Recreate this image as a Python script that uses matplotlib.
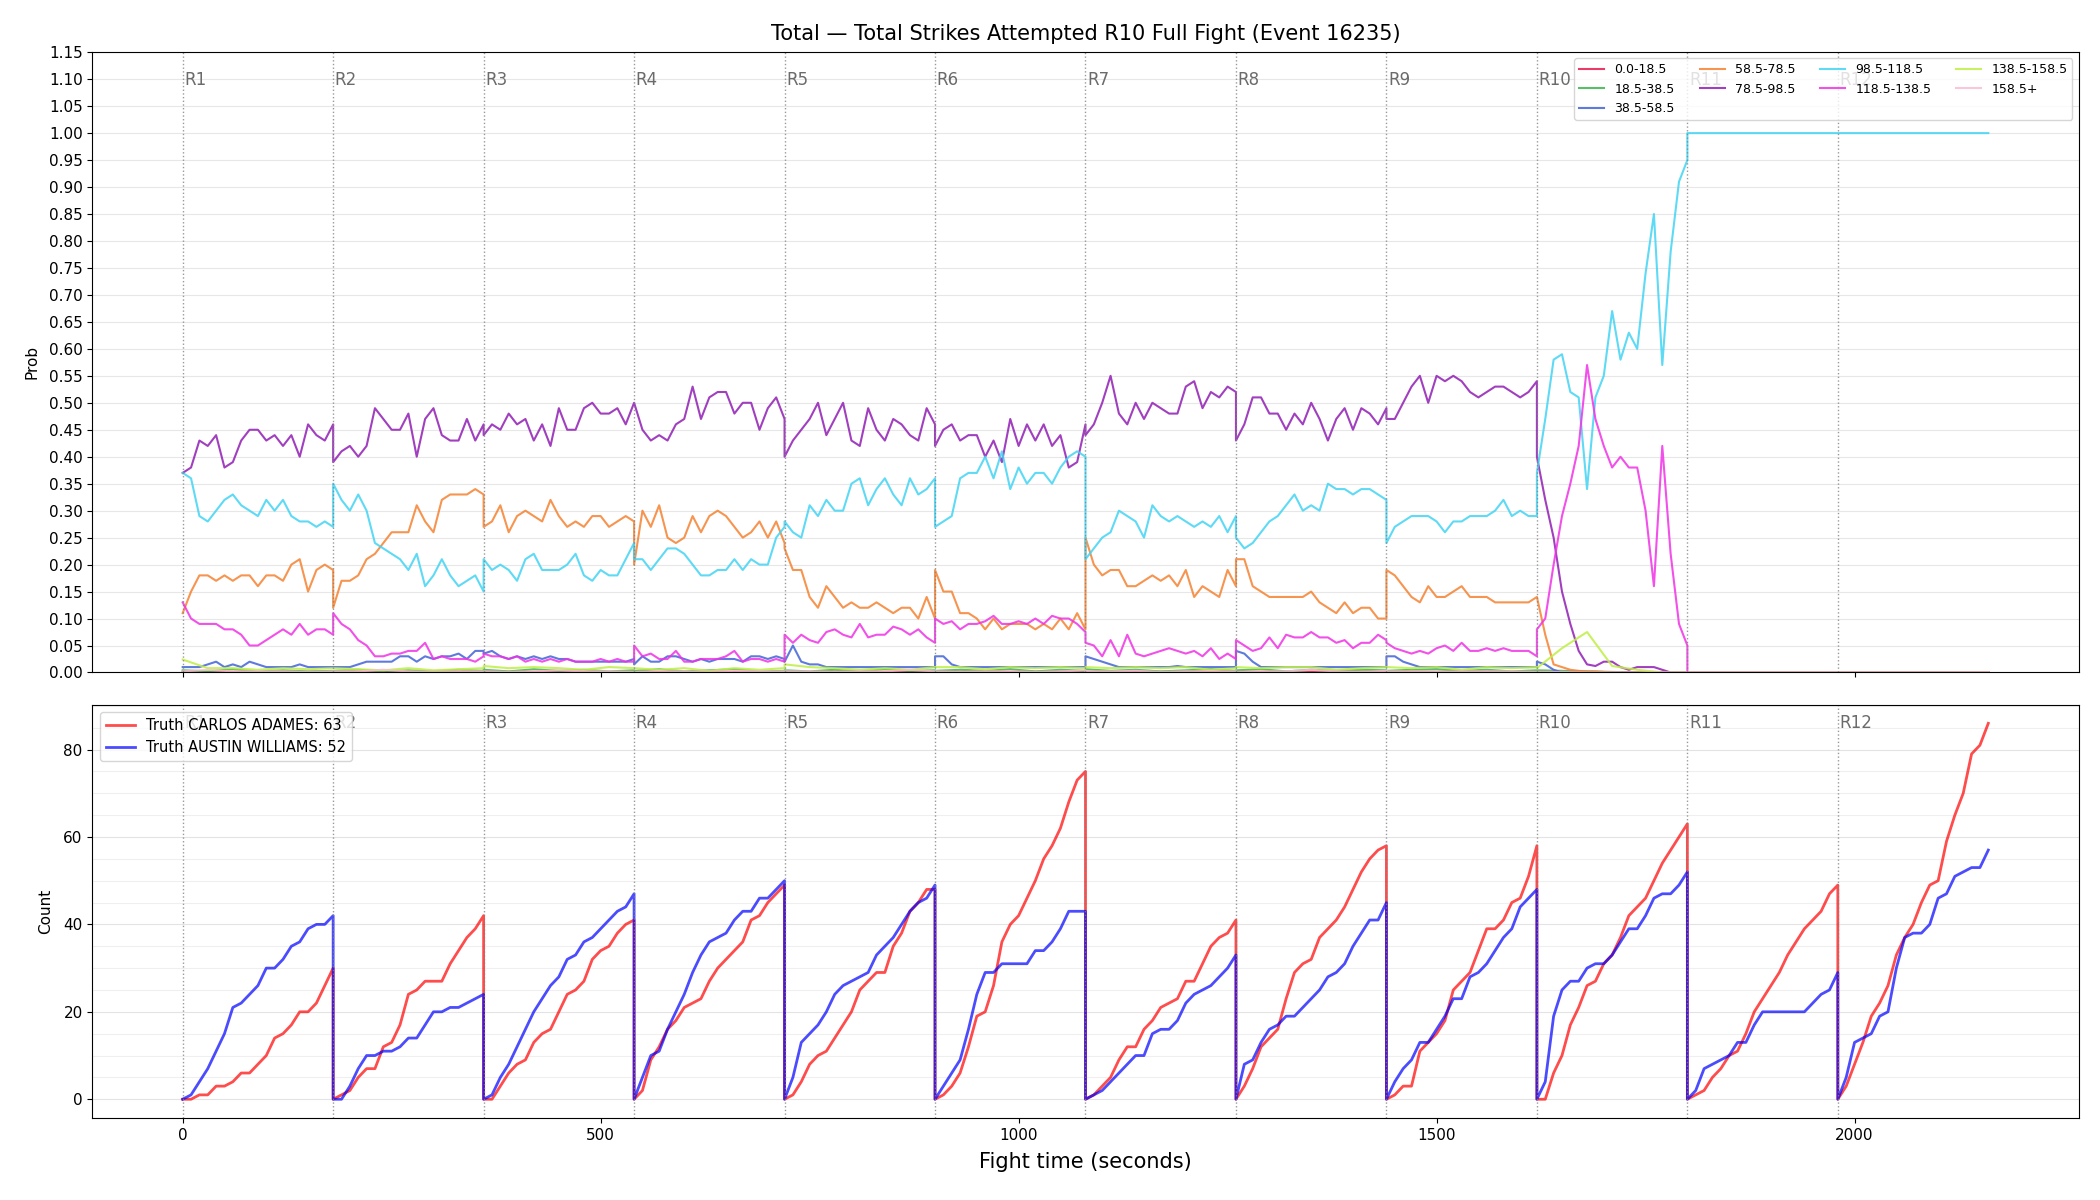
import numpy as np
import matplotlib.pyplot as plt
from matplotlib.ticker import MultipleLocator

# fight structure (seconds)
round_starts = [0, 180, 360, 540, 720, 900, 1080, 1260, 1440, 1620, 1800, 1980]
round_len = 180

bin_labels = ['0.0-18.5', '18.5-38.5', '38.5-58.5', '58.5-78.5', '78.5-98.5',
              '98.5-118.5', '118.5-138.5', '138.5-158.5', '158.5+']
bin_colors = ['#e6194B', '#3cb44b', '#4363d8', '#f58231', '#911eb4',
              '#42d4f4', '#f032e6', '#bfef45', '#fabed4']

# bin probabilities in percent, one list per round R1..R10, every 10 s
p_38_58 = [
    [1, 1, 1, 1.5, 2, 1, 1.5, 1, 2, 1.5, 1, 1, 1, 1, 1.5, 1, 1, 1, 1],
    [1, 1, 1, 1.5, 2, 2, 2, 2, 3, 3, 2, 3, 2.5, 3, 3, 3.5, 2.5, 4, 4],
    [3.5, 4, 3, 2.5, 3, 2.5, 3, 2.5, 3, 2.5, 2.5, 2, 2, 2, 2, 2, 2, 2, 2.5],
    [1.5, 3, 2, 2, 3, 3, 2.5, 2, 2.5, 2, 2.5, 2.5, 2.5, 2, 3, 3, 2.5, 3, 2.5],
    [2, 5, 2, 1.5, 1.5, 1, 1, 1, 1, 1, 1, 1, 1, 1, 1, 1, 1, 1, 1],
    [3, 3, 1.5, 1, 1, 1, 1, 1, 1, 1, 1, 1, 1, 1, 1, 1, 1, 1, 1],
    [3, 2.5, 2, 1.5, 1, 1, 1, 1, 1, 1, 1, 1.2, 1, 1, 1, 1, 1, 1, 1],
    [4, 3.5, 2, 1, 1, 1, 1, 1, 1, 1, 1, 1, 1, 1, 1, 1, 1, 1, 1],
    [3, 3, 2, 1.5, 1, 1, 1, 1, 1, 1, 1, 1, 1, 1, 1, 1, 1, 1, 1],
    [2, 1.5, 0.5, 0, 0, 0, 0, 0, 0, 0, 0, 0, 0, 0, 0, 0, 0, 0, 0],
]
p_58_78 = [
    [11, 15, 18, 18, 17, 18, 17, 18, 18, 16, 18, 18, 17, 20, 21, 15, 19, 20, 19],
    [12, 17, 17, 18, 21, 22, 24, 26, 26, 26, 31, 28, 26, 32, 33, 33, 33, 34, 33],
    [27, 28, 31, 26, 29, 30, 29, 28, 32, 29, 27, 28, 27, 29, 29, 27, 28, 29, 28],
    [20, 30, 27, 31, 25, 24, 25, 29, 26, 29, 30, 29, 27, 25, 26, 28, 25, 28, 24],
    [23, 19, 19, 14, 12, 16, 14, 12, 13, 12, 12, 13, 12, 11, 12, 12, 10, 14, 10],
    [19, 15, 15, 11, 11, 10, 8, 10, 8, 9, 9, 9, 8, 9, 8, 10, 8, 11, 8],
    [25, 20, 18, 19, 19, 16, 16, 17, 18, 17, 18, 16, 19, 14, 16, 15, 14, 19, 16],
    [21, 21, 16, 15, 14, 14, 14, 14, 14, 15, 13, 12, 11, 13, 11, 12, 12, 10, 10],
    [19, 18, 16, 14, 13, 16, 14, 14, 15, 16, 14, 14, 14, 13, 13, 13, 13, 13, 14],
    [14, 7, 1.5, 1, 0.5, 0.3, 0.2, 0.2, 0.1, 0, 0, 0, 0, 0, 0, 0, 0, 0, 0],
]
p_78_98 = [
    [37, 38, 43, 42, 44, 38, 39, 43, 45, 45, 43, 44, 42, 44, 40, 46, 44, 43, 46],
    [39, 41, 42, 40, 42, 49, 47, 45, 45, 48, 40, 47, 49, 44, 43, 43, 47, 43, 46],
    [44, 46, 45, 48, 46, 47, 43, 46, 42, 49, 45, 45, 49, 50, 48, 48, 49, 46, 50],
    [50, 45, 43, 44, 43, 46, 47, 53, 47, 51, 52, 52, 48, 50, 50, 45, 49, 51, 47],
    [40, 43, 45, 47, 50, 44, 47, 50, 43, 42, 49, 45, 43, 47, 46, 44, 43, 49, 46],
    [42, 45, 46, 43, 44, 44, 40, 43, 39, 47, 42, 46, 43, 46, 42, 44, 38, 39, 46],
    [44, 46, 50, 55, 48, 46, 50, 47, 50, 49, 48, 48, 53, 54, 49, 52, 51, 53, 52],
    [43, 46, 51, 51, 48, 48, 45, 48, 46, 50, 47, 43, 47, 49, 45, 49, 48, 46, 49],
    [47, 47, 50, 53, 55, 50, 55, 54, 55, 54, 52, 51, 52, 53, 53, 52, 51, 52, 54],
    [40, 32, 25, 15, 9, 4, 1.5, 1.2, 2, 2, 1, 0.5, 1, 1, 1, 0.5, 0, 0, 0],
]
p_98_118 = [
    [37, 36, 29, 28, 30, 32, 33, 31, 30, 29, 32, 30, 32, 29, 28, 28, 27, 28, 27],
    [35, 32, 30, 33, 30, 24, 23, 22, 21, 19, 22, 16, 18, 21, 18, 16, 17, 18, 15],
    [21, 19, 20, 19, 17, 21, 22, 19, 19, 19, 20, 22, 18, 17, 19, 18, 18, 21, 24],
    [21, 21, 19, 21, 23, 23, 22, 20, 18, 18, 19, 19, 21, 19, 21, 20, 20, 25, 27],
    [28, 26, 25, 31, 29, 32, 30, 30, 35, 36, 31, 34, 36, 33, 31, 36, 33, 34, 36],
    [27, 28, 29, 36, 37, 37, 40, 36, 41, 34, 38, 35, 37, 37, 35, 38, 40, 41, 40],
    [21, 23, 25, 26, 30, 29, 28, 25, 31, 29, 28, 29, 28, 27, 28, 27, 29, 26, 29],
    [25, 23, 24, 26, 28, 29, 31, 33, 30, 31, 30, 35, 34, 34, 33, 34, 34, 33, 32],
    [24, 27, 28, 29, 29, 29, 28, 26, 28, 28, 29, 29, 29, 30, 32, 29, 30, 29, 29],
    [37, 47, 58, 59, 52, 51, 34, 51, 55, 67, 58, 63, 60, 74, 85, 57, 78, 91, 95],
]
p_118_138 = [
    [13, 10, 9, 9, 9, 8, 8, 7, 5, 5, 6, 7, 8, 7, 9, 7, 8, 8, 7],
    [11, 9, 8, 6, 5, 3, 3, 3.5, 3.5, 4, 4, 5.5, 2.5, 3, 2.5, 2.5, 2.5, 2, 3],
    [3.5, 3, 3, 2.5, 3, 2, 2.5, 2, 2.5, 2, 2.5, 2, 2, 2, 2.5, 2, 2.5, 2, 2],
    [5, 3, 3.5, 2.5, 2.5, 4, 2, 2, 2.5, 2.5, 2.5, 3, 4, 2, 2.5, 2.5, 2, 2.5, 2],
    [7, 5.5, 7, 6, 5.5, 7.5, 8, 7, 6.5, 9, 6.5, 7, 7, 8.5, 8, 7, 8, 6.5, 5.5],
    [10, 9, 9.5, 8, 9, 9, 9.5, 10.5, 9, 9, 9.5, 9, 10, 9, 10.5, 10, 10, 9, 7.5],
    [5.5, 5, 3, 6, 3, 7, 3.5, 3, 3.5, 4, 4.5, 4, 3.5, 4, 3, 4.5, 2.5, 3.5, 2.5],
    [6, 5, 4, 4.5, 6.5, 4.5, 7, 6.5, 6.5, 7.5, 6.5, 6.5, 5.5, 6, 4.5, 5.5, 5.5, 7, 6],
    [5.5, 4.5, 4, 3.5, 4, 3.5, 4.5, 5, 4, 5.5, 4, 4, 4.5, 4, 4.5, 4, 4, 4, 3],
    [8, 10, 20, 29, 35, 42, 57, 47, 42, 38, 40, 38, 38, 30, 16, 42, 22, 9, 5],
]

# near-zero bins, every 30 s
p_0_18 = [
    [0.1, 0.1, 0.1, 0.1, 0.1, 0.1, 0.1], [0.1, 0.1, 0.1, 0.1, 0.1, 0.1, 0.1],
    [0.1, 0.1, 0.1, 0.1, 0.1, 0.1, 0.1], [0.1, 0.1, 0.1, 0.1, 0.1, 0.1, 0.1],
    [0.1, 0.1, 0.1, 0.1, 0.1, 0.1, 0.1], [0.1, 0.1, 0.1, 0.1, 0.1, 0.1, 0.1],
    [0.1, 0.1, 0.1, 0.1, 0.1, 0.1, 0.1], [0.1, 0.1, 0.1, 0.1, 0.1, 0.1, 0.1],
    [0.1, 0.1, 0.1, 0.1, 0.1, 0.1, 0.1], [0.1, 0, 0, 0, 0, 0, 0],
]
p_18_38 = [
    [0.4, 0.2, 0.6, 0.2, 0.4, 0.2, 0.3], [0.3, 0.5, 0.2, 0.4, 0.2, 0.5, 0.3],
    [0.5, 0.2, 0.6, 0.3, 0.5, 0.2, 0.4], [0.3, 0.6, 0.2, 0.4, 0.6, 0.2, 0.3],
    [0.4, 0.2, 0.5, 0.2, 0.6, 0.3, 0.4], [0.3, 0.5, 0.3, 0.6, 0.2, 0.5, 0.3],
    [0.6, 0.3, 0.5, 0.2, 0.4, 0.6, 0.3], [0.4, 0.6, 0.2, 0.5, 0.3, 0.5, 0.4],
    [0.3, 0.5, 0.6, 0.3, 0.5, 0.2, 0.4], [0.4, 0.3, 0.2, 0.1, 0, 0, 0],
]
p_138_158 = [
    [2.4, 0.8, 0.8, 0.5, 0.8, 0.6, 0.8], [0.8, 0.6, 0.4, 0.8, 0.4, 0.6, 0.8],
    [1.2, 0.8, 1.0, 0.8, 0.5, 1.0, 0.8], [0.8, 0.5, 0.8, 0.3, 0.8, 0.5, 0.8],
    [1.5, 1.0, 0.8, 0.5, 0.8, 0.5, 1.0], [1.0, 1.0, 0.6, 1.0, 0.8, 1.0, 0.8],
    [1.0, 0.8, 1.0, 0.8, 1.0, 0.5, 0.8], [1.0, 0.8, 1.0, 1.0, 0.5, 0.8, 1.0],
    [1.0, 0.8, 1.0, 0.5, 1.0, 0.8, 1.0], [0.8, 4.5, 7.5, 1.2, 0.5, 0, 0],
]
p_158_up = [
    [0.2, 0.5, 0.2, 0.2, 0.2, 0.1, 0.2], [0.2, 0.2, 0.5, 0.2, 0.1, 0.2, 0.2],
    [0.2, 0.1, 0.2, 0.4, 0.2, 0.2, 0.1], [0.1, 0.2, 0.2, 0.1, 0.3, 0.2, 0.2],
    [0.2, 0.2, 0.1, 0.2, 0.2, 0.5, 0.2], [0.2, 0.1, 0.2, 0.2, 0.1, 0.2, 0.4],
    [0.2, 0.2, 0.3, 0.1, 0.2, 0.2, 0.2], [0.1, 0.2, 0.2, 0.5, 0.2, 0.1, 0.3],
    [0.2, 0.2, 0.1, 0.2, 0.2, 0.2, 0.1], [0.1, 0.1, 0, 0, 0, 0, 0],
]

# after R10 is over the market is settled
settled_pct = [0, 0, 0, 0, 0, 100, 0, 0, 0]

# cumulative strikes attempted per round, every 10 s
fighter_a = 'CARLOS ADAMES'
fighter_b = 'AUSTIN WILLIAMS'
count_a = [
    [0, 0, 1, 1, 3, 3, 4, 6, 6, 8, 10, 14, 15, 17, 20, 20, 22, 26, 30],
    [0, 1, 2, 5, 7, 7, 12, 13, 17, 24, 25, 27, 27, 27, 31, 34, 37, 39, 42],
    [0, 0, 3, 6, 8, 9, 13, 15, 16, 20, 24, 25, 27, 32, 34, 35, 38, 40, 41],
    [0, 2, 9, 12, 16, 18, 21, 22, 23, 27, 30, 32, 34, 36, 41, 42, 45, 47, 49],
    [0, 1, 4, 8, 10, 11, 14, 17, 20, 25, 27, 29, 29, 35, 38, 43, 45, 48, 48],
    [0, 1, 3, 6, 12, 19, 20, 26, 36, 40, 42, 46, 50, 55, 58, 62, 68, 73, 75],
    [0, 1, 3, 5, 9, 12, 12, 16, 18, 21, 22, 23, 27, 27, 31, 35, 37, 38, 41],
    [0, 3, 7, 12, 14, 16, 23, 29, 31, 32, 37, 39, 41, 44, 48, 52, 55, 57, 58],
    [0, 1, 3, 3, 11, 13, 15, 18, 25, 27, 29, 34, 39, 39, 41, 45, 46, 51, 58],
    [0, 0, 6, 10, 17, 21, 26, 27, 31, 33, 37, 42, 44, 46, 50, 54, 57, 60, 63],
    [0, 1, 2, 5, 7, 10, 11, 15, 20, 23, 26, 29, 33, 36, 39, 41, 43, 47, 49],
    [0, 3, 8, 13, 19, 22, 26, 33, 37, 40, 45, 49, 50, 59, 65, 70, 79, 81, 86],
]
count_b = [
    [0, 1, 4, 7, 11, 15, 21, 22, 24, 26, 30, 30, 32, 35, 36, 39, 40, 40, 42],
    [0, 0, 3, 7, 10, 10, 11, 11, 12, 14, 14, 17, 20, 20, 21, 21, 22, 23, 24],
    [0, 1, 5, 8, 12, 16, 20, 23, 26, 28, 32, 33, 36, 37, 39, 41, 43, 44, 47],
    [0, 5, 10, 11, 16, 20, 24, 29, 33, 36, 37, 38, 41, 43, 43, 46, 46, 48, 50],
    [0, 5, 13, 15, 17, 20, 24, 26, 27, 28, 29, 33, 35, 37, 40, 43, 45, 46, 49],
    [0, 3, 6, 9, 16, 24, 29, 29, 31, 31, 31, 31, 34, 34, 36, 39, 43, 43, 43],
    [0, 1, 2, 4, 6, 8, 10, 10, 15, 16, 16, 18, 22, 24, 25, 26, 28, 30, 33],
    [0, 8, 9, 13, 16, 17, 19, 19, 21, 23, 25, 28, 29, 31, 35, 38, 41, 41, 45],
    [0, 4, 7, 9, 13, 13, 16, 19, 23, 23, 28, 29, 31, 34, 37, 39, 44, 46, 48],
    [0, 4, 19, 25, 27, 27, 30, 31, 31, 33, 36, 39, 39, 42, 46, 47, 47, 49, 52],
    [0, 2, 7, 8, 9, 10, 13, 13, 17, 20, 20, 20, 20, 20, 20, 22, 24, 25, 29],
    [0, 5, 13, 14, 15, 19, 20, 30, 37, 38, 38, 40, 46, 47, 51, 52, 53, 53, 57],
]
target_round = 10


def stitch(rounds, step):
    # glue per-round samples onto the fight clock
    offs = np.arange(0, round_len + 1, step)
    t = np.concatenate([round_starts[i] + offs for i in range(len(rounds))])
    v = np.concatenate([np.asarray(r, dtype=float) for r in rounds])
    return t, v


prob_rounds = [p_0_18, p_18_38, p_38_58, p_58_78, p_78_98,
               p_98_118, p_118_138, p_138_158, p_158_up]
prob_steps = [30, 30, 10, 10, 10, 10, 10, 30, 30]

fig = plt.figure(figsize=(21, 12), dpi=100)
gs = fig.add_gridspec(2, 1, height_ratios=[3, 2], hspace=0.062,
                      left=0.044, right=0.9898, top=0.9565, bottom=0.0683)
ax1 = fig.add_subplot(gs[0])
ax2 = fig.add_subplot(gs[1], sharex=ax1)

settle_t = [round_starts[target_round], round_starts[-1] + round_len]
for lab, col, rounds, step, fin in zip(bin_labels, bin_colors, prob_rounds,
                                       prob_steps, settled_pct):
    t, v = stitch(rounds, step)
    t = np.append(t, settle_t)
    v = np.append(v, [fin, fin]) / 100.0
    ax1.plot(t, v, color=col, lw=1.5, alpha=0.85, label=lab)

ta, va = stitch(count_a, 10)
tb, vb = stitch(count_b, 10)
ax2.plot(ta, va, color='red', lw=2, alpha=0.7,
         label=f'Truth {fighter_a}: {count_a[target_round - 1][-1]}')
ax2.plot(tb, vb, color='blue', lw=2, alpha=0.7,
         label=f'Truth {fighter_b}: {count_b[target_round - 1][-1]}')

# round markers
for ax in (ax1, ax2):
    for i, rs in enumerate(round_starts):
        ax.axvline(rs, color='gray', ls=':', lw=1, alpha=0.8)
        ax.text(rs + 2, 0.955, f'R{i + 1}', transform=ax.get_xaxis_transform(),
                color='#6b6b6b', fontsize=12, ha='left', va='center')
    ax.tick_params(labelsize=11)

ax1.set_ylim(0, 1.15)
ax1.yaxis.set_major_locator(MultipleLocator(0.05))
ax1.grid(axis='y', alpha=0.3)
ax1.set_ylabel('Prob', fontsize=11, labelpad=7)
ax1.set_title('Total — Total Strikes Attempted R10 Full Fight (Event 16235)',
              fontsize=15, pad=9)
ax1.legend(loc='upper right', ncol=4, fontsize=9)
ax1.tick_params(labelbottom=False)

ax2.yaxis.set_major_locator(MultipleLocator(20))
ax2.yaxis.set_minor_locator(MultipleLocator(5))
ax2.tick_params(axis='y', which='minor', length=0)
ax2.grid(axis='y', which='major', alpha=0.35)
ax2.grid(axis='y', which='minor', alpha=0.2)
ax2.set_ylabel('Count', fontsize=11, labelpad=7)
ax2.set_xlabel('Fight time (seconds)', fontsize=15, labelpad=7)
ax2.legend(loc='upper left', fontsize=10.5)

fig.savefig('out.png', dpi=100)
